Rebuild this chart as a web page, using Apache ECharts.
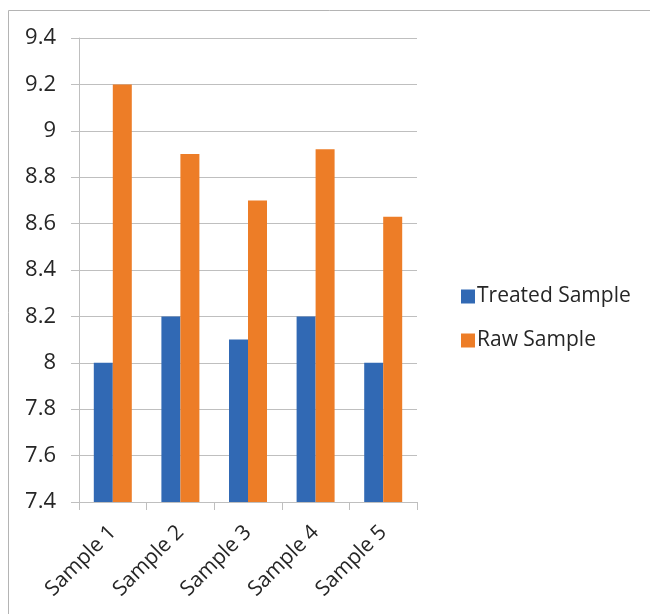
<!DOCTYPE html>
<html><head><meta charset="utf-8">
<script src="https://cdn.jsdelivr.net/npm/echarts@6/dist/echarts.min.js"></script>
<style>html,body{margin:0;padding:0;background:#fff}#c{width:650px;height:614px}</style>
</head><body><div id="c"></div>
<script>
const categories = ['Sample 1','Sample 2','Sample 3','Sample 4','Sample 5'];
const treated = [8.0, 8.2, 8.1, 8.2, 8.0];
const raw = [9.2, 8.9, 8.7, 8.92, 8.63];
const seriesNames = ['Treated Sample','Raw Sample'];
const yMin = 7.4, yMax = 9.4, yStep = 0.2;

const FONT = 'Open Sans';
const chart = echarts.init(document.getElementById('c'), null, {renderer:'canvas'});
chart.setOption({
  animation:false,
  backgroundColor:'#fff',
  graphic:[{type:'rect', shape:{x:8.5,y:10.5,width:700,height:700}, style:{fill:'none', stroke:'#b4b4b4', lineWidth:1}}],
  grid:{left:79, right:233, top:38, bottom:112, containLabel:false},
  legend:{
    orient:'vertical', left:456, top:281, itemWidth:14, itemHeight:14, itemGap:23,
    icon:'rect',
    textStyle:{fontFamily:FONT, fontSize:21, color:'#262626', padding:[0,0,0,-3], lineHeight:21},
    data:seriesNames
  },
  xAxis:{
    type:'category', data:categories,
    axisLine:{lineStyle:{color:'#bfbfbf', width:1}},
    axisTick:{show:true, length:8, alignWithLabel:false, lineStyle:{color:'#bfbfbf'}},
    axisLabel:{rotate:45, fontFamily:FONT, fontSize:21, color:'#262626', margin:27, interval:0}
  },
  yAxis:{
    type:'value', min:yMin, max:yMax, interval:yStep,
    axisLine:{show:true, lineStyle:{color:'#bfbfbf'}},
    axisTick:{show:true, length:8, lineStyle:{color:'#bfbfbf'}},
    splitLine:{lineStyle:{color:'#bfbfbf', width:1}},
    axisLabel:{fontFamily:FONT, fontSize:22, color:'#262626', margin:23,
      formatter:v=>String(parseFloat(v.toFixed(1)))}
  },
  series:[
    {name:seriesNames[0], type:'bar', data:treated, barWidth:19, barGap:'0%', itemStyle:{color:'#3169B4'}},
    {name:seriesNames[1], type:'bar', data:raw, barWidth:19, barGap:'0%', itemStyle:{color:'#ED7D27'}}
  ]
});
</script></body></html>
